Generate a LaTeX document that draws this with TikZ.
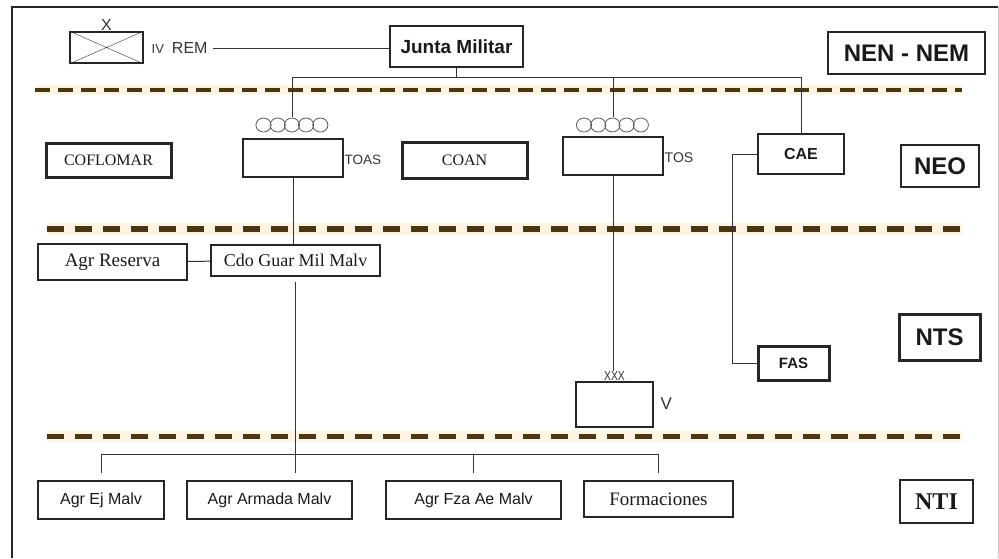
\documentclass[tikz,border=0pt]{standalone}
\usepackage{fontspec}
\setmainfont{Liberation Serif}
\setsansfont{Liberation Sans}
\newcommand{\fsz}[1]{\fontsize{#1}{#1}\selectfont}
\definecolor{dashbrown}{RGB}{74,54,18}
\definecolor{dashglow}{RGB}{253,244,228}
\tikzset{
  box/.style={draw=black!85, line width=1.2pt, inner sep=0pt, text=black!90},
  heavy/.style={box, line width=3pt},
  lvl/.style={box, line width=1.5pt, font=\sffamily\bfseries\fsz{24}},
  tag/.style={inner sep=0.5pt, text=black!80, font=\sffamily\fsz{14}},
  ring/.style={minimum width=72pt, minimum height=15pt, inner sep=0pt},
  link/.style={draw=black!80, line width=1pt}
}
\begin{document}
\begin{tikzpicture}[x=1pt,y=-1pt]
  \useasboundingbox (0,0) rectangle (999,558);
  % frame
  \draw[line width=2pt, black!85] (12,558) -- (12,7) -- (998,7);
  \draw[line width=1pt, black!20] (998,7) -- (998,558);

  % level separators
  \foreach \y/\xa/\w/\d/\g in {90/35/4/15/8, 229/47/6/17/11, 436/47/5/17/11} {
    \draw[dashglow, line width=\w pt+6pt] (\xa,\y) -- (962,\y);
    \draw[dashbrown, line width=\w pt, dash pattern=on \d pt off \g pt] (\xa,\y) -- (962,\y);
  }
  \coordinate (bus1) at (0,77);
  \coordinate (bus2) at (0,454);
  \coordinate (stub) at (0,473);

  % NEN - NEM
  \node[box, line width=2pt, minimum width=73pt, minimum height=31pt] (brig) at (106.5,47.5) {};
  \draw[black!80] (brig.north west) -- (brig.south east) (brig.south west) -- (brig.north east);
  \node[tag, anchor=south, font=\sffamily\fsz{16}] (brigx) at (brig.north) {X};
  \node[tag, anchor=west, font=\sffamily\fsz{16}] (rem) at (151,48) {{\fsz{13}IV}\enspace REM};
  \node[box, minimum width=133pt, minimum height=41pt, font=\sffamily\bfseries\fsz{19}] (junta) at (456.5,46.5) {Junta Militar};
  \draw[link] ([xshift=5pt]rem.east) -- (junta.west |- rem.east);
  \node[lvl, minimum width=157pt, minimum height=42pt] (nen) at (906.5,53) {NEN - NEM};

  % NEO
  \node[heavy, minimum width=125pt, minimum height=34pt, font=\fsz{16}] (coflomar) at (108.5,160) {COFLOMAR};
  \node[box, minimum width=100pt, minimum height=38pt] (toas) at (293,158) {};
  \node[ring] (toasring) at (292.5,125) {};
  \node[tag, anchor=west, font=\sffamily\fsz{13.5}] (toaslbl) at (344,160) {TOAS};
  \node[heavy, minimum width=125pt, minimum height=36pt, font=\fsz{16}] (coan) at (464.5,160) {COAN};
  \node[box, minimum width=100pt, minimum height=38pt] (tos) at (613,156) {};
  \node[ring] (tosring) at (613,125) {};
  \node[tag, anchor=west] (toslbl) at (664,158) {TOS};
  \node[box, minimum width=86pt, minimum height=40pt, font=\sffamily\bfseries\fsz{16}] (cae) at (801,154) {CAE};
  \node[lvl, minimum width=78pt, minimum height=42pt] (neo) at (940,166) {NEO};
  \foreach \r in {toasring,tosring}
    \foreach \i in {0,...,4}
      \draw[black!65, line width=0.8pt] ([xshift=\i*14.2pt+7.2pt]\r.west) ellipse (7.6pt and 7pt);
  \draw[link] (junta.south) -- (junta.south |- bus1);
  \draw[link] (toasring.north) |- (cae.north |- bus1) -- (cae.north);
  \draw[link] (tosring.north) -- (tosring.north |- bus1);

  % NTS
  \node[box, minimum width=149pt, minimum height=36pt, font=\fsz{19}] (reserva) at (112.5,262) {Agr Reserva};
  \node[box, line width=2pt, minimum width=169pt, minimum height=31pt, font=\fsz{18}] (cdo) at (295.5,260.5) {Cdo Guar Mil Malv};
  \draw[link] (toas.south) -- (toas.south |- cdo.north);
  \draw[link] (reserva) -- (cdo);
  \node[heavy, minimum width=71pt, minimum height=34pt, font=\sffamily\bfseries\fsz{15}] (fas) at (793.5,363) {FAS};
  \draw[link] (cae.west) -- ++(-25,0) |- (fas.west);
  \node[lvl, line width=3pt, minimum width=81pt, minimum height=46pt] (nts) at (939.5,337) {NTS};
  \node[box, minimum width=77pt, minimum height=45pt] (army) at (614.5,404.5) {};
  \node[tag, anchor=south, font=\sffamily\fsz{13}, xscale=0.8] (armyx) at (army.north) {XXX};
  \node[tag, anchor=west, font=\sffamily\fsz{17}] (armyv) at (660,404) {V};
  \draw[link] (tos.south) -- (tos.south |- armyx.north);

  % NTI
  \node[box, minimum width=126pt, minimum height=38pt, font=\sffamily\fsz{16}] (ej) at (101,500) {Agr Ej Malv};
  \node[box, minimum width=165pt, minimum height=38pt, font=\sffamily\fsz{16}] (armada) at (269.5,500) {Agr Armada Malv};
  \node[box, minimum width=175pt, minimum height=38pt, font=\sffamily\fsz{16}] (fza) at (473.5,500) {Agr Fza Ae Malv};
  \node[box, minimum width=149pt, minimum height=36pt, font=\fsz{19}] (form) at (658.5,499) {Formaciones};
  \node[box, line width=2pt, minimum width=73pt, minimum height=43pt, font=\bfseries\fsz{24}] (nti) at (936.5,501.5) {NTI};
  \draw[link, shorten <=5pt] (cdo.south) -- (cdo.south |- stub);
  \draw[link] (ej.north |- stub) |- (bus2 -| form.north) -- (form.north |- stub);
  \draw[link] (fza.north |- stub) -- (fza.north |- bus2);
\end{tikzpicture}
\end{document}
